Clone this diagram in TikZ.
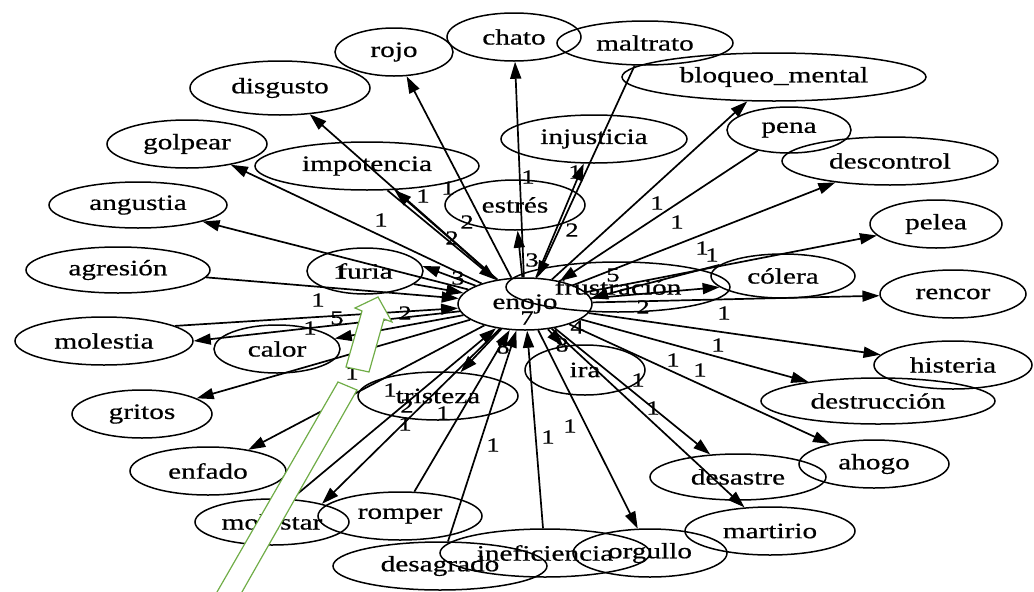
\documentclass[tikz,border=0pt]{standalone}
\usepackage{fontspec}
\setmainfont{Liberation Serif}[FakeStretch=1.33,FakeBold=0.6]
\usetikzlibrary{shapes.geometric,arrows.meta}
\definecolor{callout}{RGB}{112,173,71}
\begin{document}
\begin{tikzpicture}[x=1pt,y=-1pt,
  word/.style={draw, ellipse, line width=1.5pt, inner sep=0pt,
    font=\fontsize{22}{24}\selectfont},
  arr/.style={-{Triangle[length=17pt,width=11pt]}, line width=1.7pt},
  wt/.style={inner sep=0pt, font=\fontsize{20}{22}\selectfont}]
\fill[white] (0,0) rectangle (1034,592);
\useasboundingbox (0,0) rectangle (1034,592);

% central concept
\node[word, minimum width=134pt, minimum height=52pt] (enojo) at (525,304) {enojo};

% surrounding words
\node[word, minimum width=180pt, minimum height=54pt] (disgusto) at (280,88) {disgusto};
\node[word, minimum width=160pt, minimum height=48pt] (golpear) at (187,144) {golpear};
\node[word, minimum width=178pt, minimum height=46pt] (angustia) at (138,205) {angustia};
\node[word, minimum width=184pt, minimum height=46pt] (agresion) at (118,270) {agresión};
\node[word, minimum width=178pt, minimum height=48pt] (molestia) at (104,341) {molestia};
\node[word, minimum width=126pt, minimum height=48pt] (calor) at (277,349) {calor};
\node[word, minimum width=140pt, minimum height=48pt] (gritos) at (142,414) {gritos};
\node[word, minimum width=156pt, minimum height=48pt] (enfado) at (208,471) {enfado};
\node[word, minimum width=154pt, minimum height=46pt] (molestar) at (272,522) {molestar};
\node[word, minimum width=164pt, minimum height=48pt] (romper) at (400,516) {romper};
\node[word, minimum width=214pt, minimum height=48pt] (desagrado) at (440,566) {desagrado};
\node[word, minimum width=210pt, minimum height=48pt] (ineficiencia) at (545,553) {ineficiencia};
\node[word, minimum width=154pt, minimum height=48pt] (orgullo) at (650,553) {orgullo};
\node[word, minimum width=170pt, minimum height=48pt] (martirio) at (770,531) {martirio};
\node[word, minimum width=176pt, minimum height=46pt] (desastre) at (738,477) {desastre};
\node[word, minimum width=150pt, minimum height=48pt] (ahogo) at (874,464) {ahogo};
\node[word, minimum width=234pt, minimum height=46pt] (destruccion) at (878,401) {destrucción};
\node[word, minimum width=158pt, minimum height=48pt] (histeria) at (953,365) {histeria};
\node[word, minimum width=146pt, minimum height=48pt] (rencor) at (953,294) {rencor};
\node[word, minimum width=132pt, minimum height=48pt] (pelea) at (936,224) {pelea};
\node[word, minimum width=144pt, minimum height=44pt] (colera) at (783,276) {cólera};
\node[word, minimum width=216pt, minimum height=48pt] (descontrol) at (890,161) {descontrol};
\node[word, minimum width=124pt, minimum height=46pt] (pena) at (789,130) {pena};
\node[word, minimum width=304pt, minimum height=48pt] (bloqueo) at (774,77) {bloqueo\_mental};
\node[word, minimum width=176pt, minimum height=44pt] (maltrato) at (645,43) {maltrato};
\node[word, minimum width=134pt, minimum height=48pt] (chato) at (514,37) {chato};
\node[word, minimum width=118pt, minimum height=48pt] (rojo) at (394,52) {rojo};
\node[word, minimum width=186pt, minimum height=48pt] (injusticia) at (594,139) {injusticia};
\node[word, minimum width=224pt, minimum height=48pt] (impotencia) at (367,166) {impotencia};
\node[word, minimum width=140pt, minimum height=50pt] (estres) at (515,205) {estrés};
\node[word, minimum width=116pt, minimum height=46pt] (furia) at (365,271) {furia};
\node[word, minimum width=224pt, minimum height=50pt] (frustracion) at (618,287) {frustración};
\node[word, minimum width=160pt, minimum height=48pt] (tristeza) at (438,396) {tristeza};
\node[word, minimum width=120pt, minimum height=50pt] (ira) at (585,370) {ira};

% relations
\draw[arr] (enojo) -- (disgusto);
\draw[arr] (enojo) -- (golpear);
\draw[arr] (enojo) -- (angustia);
\draw[arr] (agresion) -- (enojo);
\draw[arr] (molestia.12) -- (enojo);
\draw[arr] (enojo) -- (molestia.east);
\draw[arr] (enojo) -- (calor);
\draw[arr] (enojo) -- (gritos);
\draw[arr] (enojo) -- (enfado);
\draw[arr] (enojo) -- (molestar.20);
\draw[arr] (molestar.50) -- (enojo);
\draw[arr] (romper) -- (enojo);
\draw[arr] (desagrado) -- (enojo);
\draw[arr] (ineficiencia) -- (enojo);
\draw[arr] (enojo) -- (orgullo);
\draw[arr] (enojo) -- (tristeza);
\draw[arr] (enojo) -- (ira);
\draw[arr] (enojo) -- (martirio);
\draw[arr] (enojo) -- (desastre);
\draw[arr] (enojo) -- (ahogo);
\draw[arr] (enojo) -- (destruccion);
\draw[arr] (enojo) -- (histeria);
\draw[arr] (enojo) -- (rencor);
\draw[arr] (enojo) -- (colera.190);
\draw[arr] (colera.170) -- (enojo.5);
\draw[arr] (enojo) -- (pelea);
\draw[arr] (enojo) -- (descontrol);
\draw[arr] (pena) -- (enojo);
\draw[arr] (enojo) -- (bloqueo);
\draw[arr] (maltrato) -- (enojo);
\draw[arr] (enojo) -- (injusticia);
\draw[arr] (enojo) -- (chato);
\draw[arr] (enojo) -- (estres);
\draw[arr] (enojo) -- (rojo);
\draw[arr] (enojo) -- (impotencia);
\draw[arr] (impotencia.-50) -- (enojo);
\draw[arr] (furia.-15) -- (enojo);
\draw[arr] (enojo) -- (furia.5);

% edge weights
\node[wt] (w01) at (528,177) {1};
\node[wt] (w02) at (423,196) {1};
\node[wt] (w03) at (448,188) {1};
\node[wt] (w04) at (467,222) {2};
\node[wt] (w05) at (452,238) {2};
\node[wt] (w06) at (381,220) {1};
\node[wt] (w07) at (572,230) {2};
\node[wt] (w08) at (575,172) {1};
\node[wt] (w09) at (657,203) {1};
\node[wt] (w10) at (677,222) {1};
\node[wt] (w11) at (532,260) {3};
\node[wt] (w12) at (458,278) {3};
\node[wt] (w13) at (613,275) {5};
\node[wt] (w14) at (702,248) {1};
\node[wt] (w15) at (712,255) {1};
\node[wt] (w16) at (643,307) {2};
\node[wt] (w17) at (724,313) {1};
\node[wt] (w18) at (718,345) {1};
\node[wt] (w19) at (673,360) {1};
\node[wt] (w20) at (700,370) {1};
\node[wt] (w21) at (638,380) {1};
\node[wt] (w22) at (653,408) {1};
\node[wt] (w23) at (570,426) {1};
\node[wt] (w24) at (548,437) {1};
\node[wt] (w25) at (493,445) {1};
\node[wt] (w26) at (577,327) {4};
\node[wt] (w27) at (562,345) {8};
\node[wt] (w28) at (503,347) {8};
\node[wt] (w29) at (527,318) {7};
\node[wt] (w30) at (390,390) {1};
\node[wt] (w31) at (407,406) {2};
\node[wt] (w32) at (405,424) {1};
\node[wt] (w33) at (443,413) {1};
\node[wt] (w34) at (352,373) {1};
\node[wt] (w35) at (318,300) {1};
\node[wt] (w36) at (337,318) {5};
\node[wt] (w37) at (310,328) {1};
\node[wt] (w38) at (405,313) {2};
\node[wt] (w39) at (340,272) {1};

% hollow pointer drawn over the graph
\filldraw[fill=white, draw=callout, line width=1.2pt]
  (212.4,600) -- (338,382) -- (357,390) -- (237.4,600) -- cycle;
\filldraw[fill=white, draw=callout, line width=1.2pt]
  (378,297) -- (355,308) -- (362,311) -- (346,367) -- (369,372)
  -- (384,319) -- (392,322) -- cycle;
\end{tikzpicture}
\end{document}
